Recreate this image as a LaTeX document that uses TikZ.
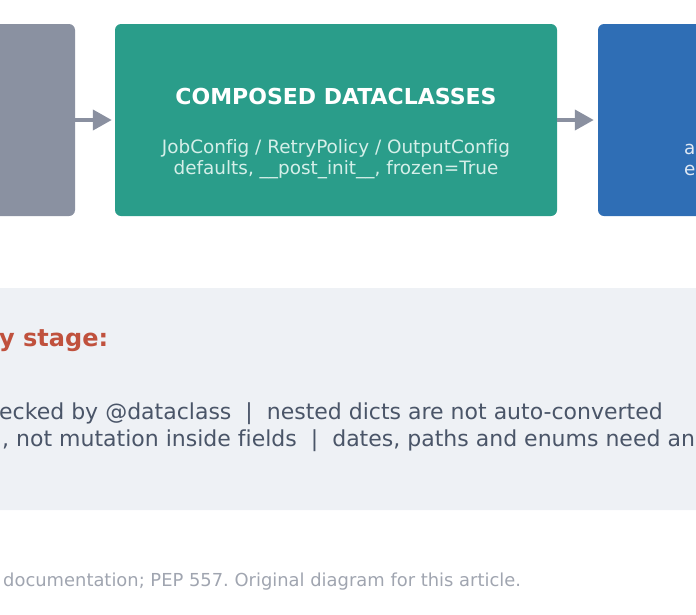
\documentclass[tikz,border=0pt]{standalone}
\usepackage{fontspec}
\setmainfont{DejaVu Sans}[Ligatures=NoCommon]
\usetikzlibrary{arrows.meta}
\frenchspacing
\definecolor{slatebox}{HTML}{8A91A1}
\definecolor{tealbox}{HTML}{2A9D8A}
\definecolor{bluebox}{HTML}{2F6EB5}
\definecolor{arrowgray}{HTML}{8A90A0}
\definecolor{panelbg}{HTML}{EEF1F5}
\definecolor{headred}{HTML}{C0513D}
\definecolor{bodytext}{HTML}{4A5568}
\definecolor{foottext}{HTML}{A0A5B0}
\definecolor{subtext}{HTML}{D5EFE9}
\tikzset{
  stagebox/.style={rounded corners=6pt, draw=none, inner sep=0pt},
  flowarrow/.style={draw=arrowgray, line width=4pt, -{Triangle[length=19pt,width=20pt]}},
  titletext/.style={text=white, font=\fontsize{22}{26}\selectfont\bfseries, inner sep=0pt},
  subtitletext/.style={text=subtext, font=\fontsize{18.4}{21}\selectfont, align=center, inner sep=0pt},
  bodyline/.style={text=bodytext, font=\fontsize{22}{27}\selectfont, anchor=west, inner sep=0pt},
}
\begin{document}
\begin{tikzpicture}[x=1pt,y=-1pt]
\useasboundingbox (0,0) rectangle (696,614);
\begin{scope}
\clip (0,0) rectangle (696,614);
% boxes
\node[stagebox, fill=slatebox, minimum width=95pt, minimum height=192pt] (gray) at (27.5,120) {};
\node[stagebox, fill=tealbox, minimum width=442pt, minimum height=192pt] (teal) at (336,120) {};
\node[stagebox, fill=bluebox, minimum width=118pt, minimum height=192pt] (blue) at (657,120) {};
% arrows
\draw[flowarrow, shorten >=3pt] (gray.east) -- (teal.west);
\draw[flowarrow, shorten >=4pt] (teal.east) -- (blue.west);
% teal text
\node[titletext] (ttitle) at (336,96) {COMPOSED DATACLASSES};
\node[subtitletext] (tsub) at (336,159.5) {JobConfig / RetryPolicy / OutputConfig\\defaults, \_\_post\_init\_\_, frozen=True};
% blue text (cropped)
\node[subtitletext, anchor=west, text=white!85!bluebox] (ba) at (684,149) {a};
\node[subtitletext, anchor=west, text=white!85!bluebox] (be) at (684,170) {e};
% bottom panel
\fill[panelbg, rounded corners=6pt] (-20,288) rectangle (716,510);
\node[text=headred, font=\fontsize{24}{28}\selectfont\bfseries, anchor=west, inner sep=0pt] (head) at (-1,341) {y stage:};
\node[bodyline] (line1) at (-1,414) {ecked by @dataclass\ \ |\ \ nested dicts are not auto-converted};
\node[bodyline] (line2) at (2,441) {, not mutation inside fields\ \ |\ \ dates, paths and enums need an};
% footer
\node[text=foottext, font=\fontsize{17.9}{21}\selectfont, anchor=west, inner sep=0pt] (foot) at (3,582) {documentation; PEP 557. Original diagram for this article.};
\end{scope}
\end{tikzpicture}
\end{document}
